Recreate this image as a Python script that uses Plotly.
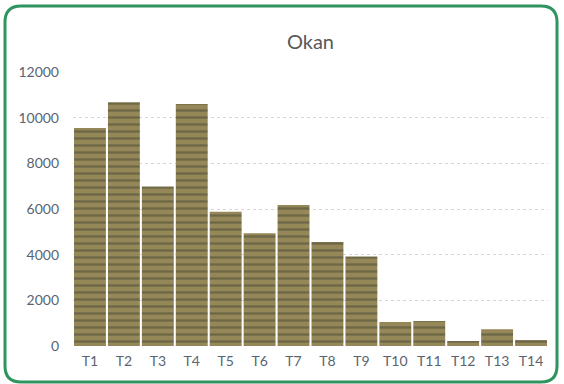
import plotly.graph_objects as go

categories = ["T1", "T2", "T3", "T4", "T5", "T6", "T7", "T8", "T9", "T10", "T11", "T12", "T13", "T14"]
values = [9550, 10680, 6980, 10600, 5880, 4940, 6180, 4550, 3920, 1050, 1100, 220, 730, 260]
y_ticks = [0, 2000, 4000, 6000, 8000, 10000, 12000]
title_text = "Okan"

W, H = 564, 384
ML, MR, MT, MB = 73, 16, 72, 38
PW, PH = W - ML - MR, H - MT - MB


def px(x):
    return (x - ML) / PW


def py(y):
    return (H - MB - y) / PH


def rounded_rect(x0, y0, x1, y1, r):
    pts = [
        f"M {px(x0 + r)} {py(y0)}",
        f"L {px(x1 - r)} {py(y0)}",
        f"Q {px(x1)} {py(y0)} {px(x1)} {py(y0 + r)}",
        f"L {px(x1)} {py(y1 - r)}",
        f"Q {px(x1)} {py(y1)} {px(x1 - r)} {py(y1)}",
        f"L {px(x0 + r)} {py(y1)}",
        f"Q {px(x0)} {py(y1)} {px(x0)} {py(y1 - r)}",
        f"L {px(x0)} {py(y0 + r)}",
        f"Q {px(x0)} {py(y0)} {px(x0 + r)} {py(y0)}",
        "Z",
    ]
    return " ".join(pts)


fig = go.Figure(
    go.Bar(
        x=categories,
        y=values,
        marker=dict(
            color="#958757",
            line=dict(width=0),
            pattern=dict(shape="-", fgcolor="#4a4a38", size=7, solidity=0.35, fillmode="overlay"),
        ),
        hoverinfo="x+y",
    )
)

fig.update_layout(
    width=W,
    height=H,
    margin=dict(l=ML, r=MR, t=MT, b=MB, pad=0),
    paper_bgcolor="white",
    plot_bgcolor="white",
    bargap=0.06,
    showlegend=False,
    font=dict(family="Lato, Open Sans, sans-serif", color="#595959"),
    title=dict(
        text=title_text,
        x=0.5,
        xref="paper",
        y=1 - 42 / H,
        yanchor="middle",
        font=dict(size=20, color="#595959", family="Lato, Open Sans, sans-serif"),
    ),
    xaxis=dict(
        showgrid=False,
        showline=False,
        ticks="",
        tickfont=dict(size=14, color="#5a6470"),
        ticklabelstandoff=5,
    ),
    yaxis=dict(
        range=[0, 12000],
        tickvals=y_ticks,
        ticktext=[str(v) for v in y_ticks],
        showgrid=True,
        gridcolor="#d6d6d6",
        gridwidth=1,
        griddash="dot",
        zeroline=False,
        showline=False,
        ticks="",
        tickfont=dict(size=14, color="#5a6470"),
        ticklabelstandoff=13,
    ),
    shapes=[
        dict(
            type="path",
            xref="paper",
            yref="paper",
            path=rounded_rect(5, 6, 557, 382, 16),
            line=dict(color="#2f9460", width=3),
            layer="above",
        )
    ],
)

fig.write_html(
    "out.html",
    config={"displayModeBar": False},
    post_script="document.body.style.margin='0';document.body.style.padding='0';document.body.style.overflow='hidden';",
)
